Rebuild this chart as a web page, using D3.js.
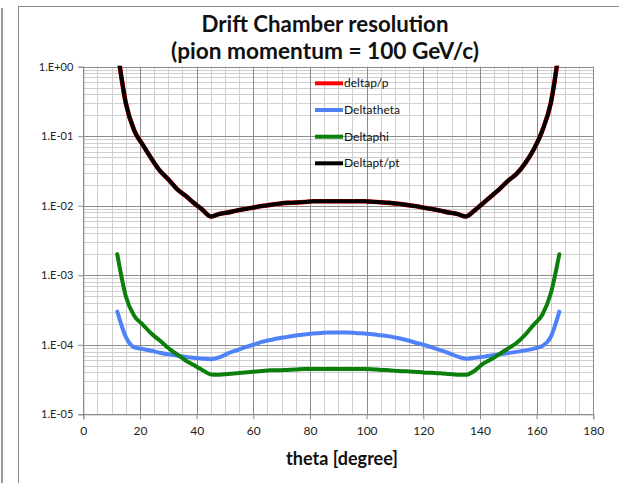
<!DOCTYPE html>
<html><head><meta charset="utf-8">
<script src="https://cdn.jsdelivr.net/npm/d3@7"></script>
<style>
html,body{margin:0;padding:0;background:#fff;}
svg{display:block;}
text{font-family:Lato,"Open Sans",sans-serif;}
</style></head>
<body>
<svg id="chart" width="619" height="483"></svg>
<script>
// ---- data ----
const theta = [12,15,18,21,24,27,30,33,36,39,42,45,48,51,54,57,60,63,66,69,72,75,78,81,84,87,90,93,96,99,102,105,108,111,114,117,120,123,126,129,132,135,138,141,144,147,150,153,156,159,162,165,168];
const deltaptPt = [1.8,0.30,0.12,0.075,0.048,0.032,0.024,0.0175,0.0140,0.0110,0.0088,0.0070,0.0076,0.0080,0.0085,0.0090,0.0094,0.0099,0.0103,0.0107,0.0110,0.0111,0.0113,0.0116,0.0116,0.0116,0.0116,0.0116,0.0116,0.0116,0.0114,0.0112,0.0110,0.0107,0.0103,0.0099,0.0094,0.0090,0.0085,0.0080,0.0076,0.0070,0.0085,0.0108,0.0137,0.0175,0.023,0.029,0.041,0.065,0.12,0.30,1.8];
const deltapP = [1.8,0.30,0.12,0.075,0.048,0.032,0.024,0.0175,0.0140,0.0110,0.0088,0.0070,0.0076,0.0080,0.0085,0.0090,0.0094,0.0099,0.0103,0.0107,0.0110,0.0111,0.0113,0.0116,0.0116,0.0116,0.0116,0.0116,0.0116,0.0116,0.0114,0.0112,0.0110,0.0107,0.0103,0.0099,0.0094,0.0090,0.0085,0.0080,0.0076,0.0070,0.0085,0.0108,0.0137,0.0175,0.023,0.029,0.041,0.065,0.12,0.30,1.8];
const deltaTheta = [3.0e-4,1.3e-4,9.2e-5,8.7e-5,8.2e-5,7.7e-5,7.3e-5,7.0e-5,6.7e-5,6.5e-5,6.3e-5,6.2e-5,6.6e-5,7.5e-5,8.3e-5,9.2e-5,1.0e-4,1.1e-4,1.17e-4,1.24e-4,1.3e-4,1.36e-4,1.41e-4,1.45e-4,1.48e-4,1.5e-4,1.5e-4,1.5e-4,1.48e-4,1.45e-4,1.42e-4,1.37e-4,1.32e-4,1.25e-4,1.17e-4,1.08e-4,1.0e-4,9.2e-5,8.4e-5,7.6e-5,6.8e-5,6.3e-5,6.5e-5,6.7e-5,7.0e-5,7.3e-5,7.6e-5,7.9e-5,8.3e-5,8.8e-5,9.6e-5,1.3e-4,3.0e-4];
const deltaPhi = [2.0e-3,5.0e-4,2.6e-4,1.95e-4,1.45e-4,1.15e-4,9.0e-5,7.3e-5,6.0e-5,5.1e-5,4.35e-5,3.75e-5,3.7e-5,3.8e-5,3.9e-5,4.0e-5,4.1e-5,4.2e-5,4.3e-5,4.3e-5,4.35e-5,4.4e-5,4.5e-5,4.5e-5,4.5e-5,4.5e-5,4.5e-5,4.5e-5,4.5e-5,4.5e-5,4.45e-5,4.35e-5,4.3e-5,4.2e-5,4.15e-5,4.1e-5,4.0e-5,3.95e-5,3.9e-5,3.8e-5,3.7e-5,3.7e-5,4.2e-5,5.3e-5,6.2e-5,7.4e-5,8.9e-5,1.07e-4,1.4e-4,1.95e-4,2.7e-4,5.5e-4,2.0e-3];
const seriesNames = ["deltap/p","Deltatheta","Deltaphi","Deltapt/pt"];
const seriesColors = ["#ff0000","#4f81f7","#0a7f0a","#000000"];
const xTicks = [0,20,40,60,80,100,120,140,160,180];
const yTicks = [1e-5,1e-4,1e-3,1e-2,1e-1,1];
const yTickLabels = ["1.E-05","1.E-04","1.E-03","1.E-02","1.E-01","1.E+00"];
const titleLines = ["Drift Chamber resolution","(pion momentum = 100 GeV/c)"];
const xTitle = "theta [degree]";

// ---- layout ----
const svg = d3.select("#chart");
const L = 83.3, R = 593.3, T = 66.7, B = 414.3;
const x = d3.scaleLinear().domain([0,180]).range([L,R]);
const y = d3.scaleLog().domain([1e-5,1]).range([B,T]);

// outer frames
svg.append("line").attr("x1",2).attr("x2",2).attr("y1",8).attr("y2",483).attr("stroke","#9a9a9a").attr("stroke-width",2);
svg.append("rect").attr("x",18.5).attr("y",6.5).attr("width",640).attr("height",520)
  .attr("fill","none").attr("stroke","#8a8a8a").attr("stroke-width",1);

// grid
const g = svg.append("g");
const minorX = d3.range(0,181,5).filter(v=>v%20!==0);
g.selectAll(".vx").data(minorX).join("line")
  .attr("x1",d=>Math.round(x(d))+0.5).attr("x2",d=>Math.round(x(d))+0.5).attr("y1",T).attr("y2",B)
  .attr("stroke","#cfcfcf").attr("stroke-width",1);
const minorY = [];
for (let e=-5;e<0;e++) for (let m=2;m<=9;m++) minorY.push(m*Math.pow(10,e));
g.selectAll(".hy").data(minorY).join("line")
  .attr("x1",L).attr("x2",R).attr("y1",d=>Math.round(y(d))+0.5).attr("y2",d=>Math.round(y(d))+0.5)
  .attr("stroke","#cfcfcf").attr("stroke-width",1);
g.selectAll(".vX").data(xTicks).join("line")
  .attr("x1",d=>Math.round(x(d))+0.5).attr("x2",d=>Math.round(x(d))+0.5).attr("y1",T).attr("y2",B)
  .attr("stroke","#8c8c8c").attr("stroke-width",1);
g.selectAll(".hY").data(yTicks).join("line")
  .attr("x1",L).attr("x2",R).attr("y1",d=>Math.round(y(d))+0.5).attr("y2",d=>Math.round(y(d))+0.5)
  .attr("stroke","#8c8c8c").attr("stroke-width",1);

// axes
const xAxis = d3.axisBottom(x).tickValues(xTicks).tickSize(5).tickPadding(7).tickFormat(d3.format("d"));
const yAxis = d3.axisLeft(y).tickValues(yTicks).tickSize(5).tickPadding(5).tickFormat((d,i)=>yTickLabels[i]);
const gx = svg.append("g").attr("transform",`translate(0,${B})`).call(xAxis);
const gy = svg.append("g").attr("transform",`translate(${L},0)`).call(yAxis);
[gx,gy].forEach(a=>{
  a.select(".domain").attr("stroke","#8c8c8c");
  a.selectAll(".tick line").attr("stroke","#8c8c8c");
  a.selectAll("text").attr("fill","#222").style("font-family","Lato, sans-serif");
});
gx.selectAll("text").style("font-size","12px");
gy.selectAll("text").style("font-size","11px");

// clip
svg.append("clipPath").attr("id","clip").append("rect").attr("x",L).attr("y",T-1).attr("width",R-L).attr("height",B-T+1);

const line = d3.line().x(d=>x(d[0])).y(d=>y(d[1])).curve(d3.curveMonotoneX);
const plot = svg.append("g").attr("clip-path","url(#clip)");
const seriesData = [deltapP, deltaTheta, deltaPhi, deltaptPt];
const widths = [4.6,4,4,4];
seriesData.forEach((vals,i)=>{
  plot.append("path").datum(theta.map((t,j)=>[t,vals[j]]))
    .attr("d",line).attr("fill","none").attr("stroke",seriesColors[i])
    .attr("stroke-width",widths[i]).attr("stroke-linejoin","round").attr("stroke-linecap","round");
});

// legend
const legY = [83.3,110,136.7,163.3];
const leg = svg.append("g");
seriesNames.forEach((n,i)=>{
  leg.append("line").attr("x1",315).attr("x2",343).attr("y1",legY[i]).attr("y2",legY[i])
    .attr("stroke",seriesColors[i]).attr("stroke-width",4);
  leg.append("text").attr("x",344).attr("y",legY[i]+4).text(n)
    .style("font-size","12px").attr("fill","#111");
});

// titles
function fit(sel, w){
  const cur = parseFloat(sel.style("font-size"));
  const len = sel.node().getComputedTextLength();
  sel.style("font-size",(cur*w/len).toFixed(2)+"px");
}
const t1 = svg.append("text").attr("x",325).attr("y",32).attr("text-anchor","middle")
  .style("font-weight","bold").style("font-size","19px").attr("fill","#111").text(titleLines[0]);
fit(t1,247);
const t2 = svg.append("text").attr("x",325).attr("y",59).attr("text-anchor","middle")
  .style("font-weight","bold").style("font-size","19px").attr("fill","#111").text(titleLines[1]);
fit(t2,308);
const xt = svg.append("text").attr("x",342).attr("y",465).attr("text-anchor","middle")
  .style("font-weight","bold").style("font-size","16px").attr("fill","#111").text(xTitle);
fit(xt,112);
</script>
</body></html>
